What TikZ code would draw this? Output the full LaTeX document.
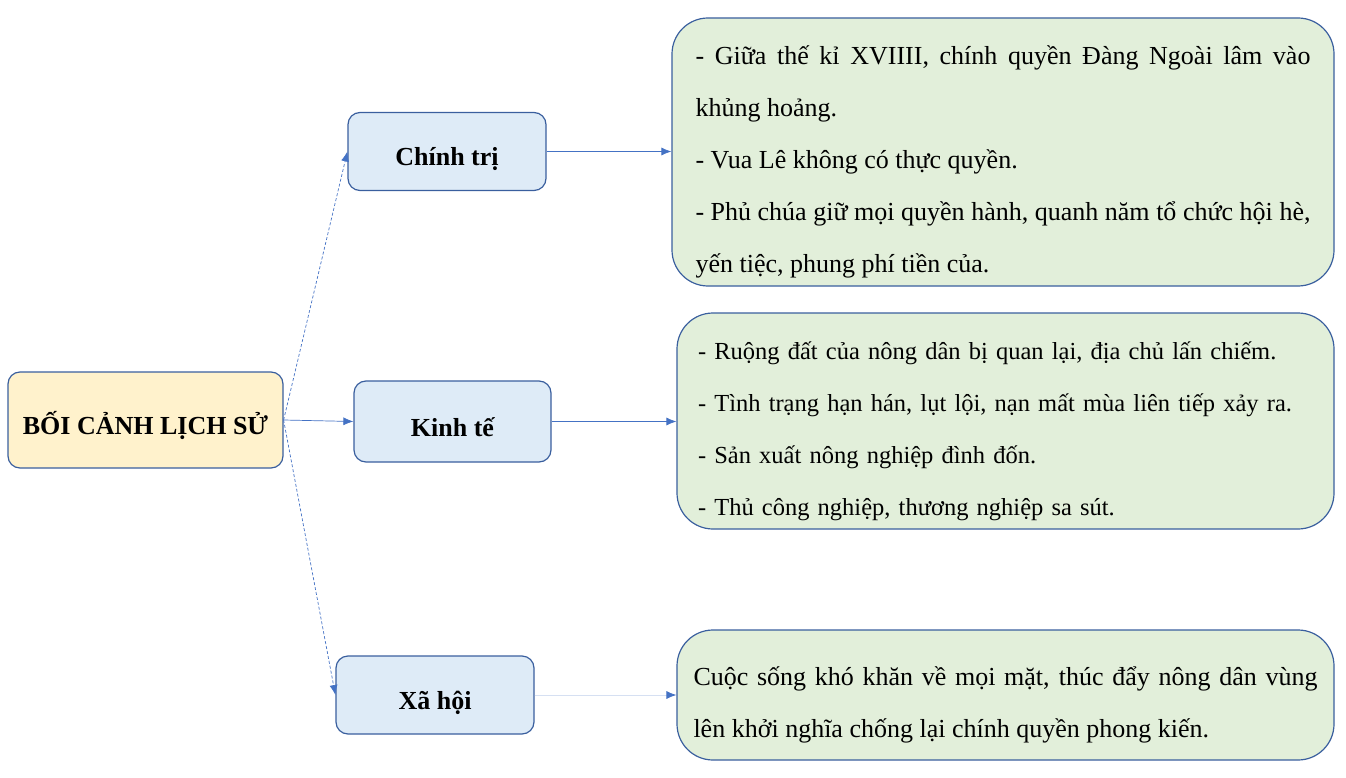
\documentclass[tikz,border=0pt]{standalone}
\usepackage{fontspec}
\setmainfont{Liberation Serif}
\usepackage{tikz}
\usetikzlibrary{arrows.meta}
\definecolor{boxline}{HTML}{3A5F9E}
\definecolor{linkblue}{HTML}{4472C4}
\definecolor{palelink}{HTML}{D6E0F2}
\definecolor{rootfill}{HTML}{FFF2CC}
\definecolor{topicfill}{HTML}{DEEBF7}
\definecolor{detailfill}{HTML}{E2EFDA}
\newcommand{\firstline}{\rule{0pt}{38pt}}
\tikzstyle{topic}=[draw=boxline,line width=1.2pt,rounded corners=12pt,fill=topicfill,font=\fontsize{26}{30}\selectfont\bfseries,text height=30pt,text depth=1pt]
\tikzstyle{root}=[topic,fill=rootfill,minimum width=275pt,minimum height=96pt]
\tikzstyle{branch}=[topic,minimum width=198pt,minimum height=78pt]
\tikzstyle{detail}=[draw=boxline,line width=1.2pt,rounded corners=36pt,fill=detailfill,inner sep=0pt,font=\fontsize{26}{52}\selectfont]
\tikzstyle{link}=[draw=linkblue,line width=0.7pt,-{Latex[length=10pt,width=8pt]}]

\begin{document}
\begin{tikzpicture}[x=1pt,y=-1pt]
        \useasboundingbox (0,0) rectangle (1346,778);
        % left side
        \node[root] (boicanh) at (145.5,420) {BỐI CẢNH LỊCH SỬ};
        \node[branch] (chinhtri) at (447,151.5) {Chính trị};
        \node[branch,minimum width=197pt,minimum height=81pt] (kinhte) at (452.5,421.5) {Kinh tế};
        \node[branch] (xahoi) at (435,695) {Xã hội};
        % right side
        \node[detail,minimum width=662pt,minimum height=268pt,text width=615pt,align=justify] (ndchinhtri) at (1003,152)
            {\firstline\makebox[\linewidth][s]{- Giữa thế kỉ XVIIII, chính quyền Đàng Ngoài lâm vào}\\
             khủng hoảng.\\
             - Vua Lê không có thực quyền.\\
             \makebox[\linewidth][s]{- Phủ chúa giữ mọi quyền hành, quanh năm tổ chức hội hè,}\\
             yến tiệc, phung phí tiền của.};
        \node[detail,minimum width=657pt,minimum height=216pt,text width=615pt,align=left,font=\fontsize{24.5}{52}\selectfont] (ndkinhte) at (1005.5,421)
            {\firstline- Ruộng đất của nông dân bị quan lại, địa chủ lấn chiếm.\\
             - Tình trạng hạn hán, lụt lội, nạn mất mùa liên tiếp xảy ra.\\
             - Sản xuất nông nghiệp đình đốn.\\
             - Thủ công nghiệp, thương nghiệp sa sút.};
        \node[detail,minimum width=657pt,minimum height=130pt,text width=624pt,align=justify] (ndxahoi) at (1005.5,695)
            {\firstline\makebox[\linewidth][s]{Cuộc sống khó khăn về mọi mặt, thúc đẩy nông dân vùng}\\
             lên khởi nghĩa chống lại chính quyền phong kiến.};
        % connectors
        \draw[link,densely dashed] (boicanh.east) -- (chinhtri.west);
        \draw[link] (boicanh.east) -- (kinhte.west);
        \draw[link,densely dashed] (boicanh.east) -- (xahoi.west);
        \draw[link] (chinhtri.east) -- (ndchinhtri.west |- chinhtri.east);
        \draw[link] (kinhte.east) -- (ndkinhte.west |- kinhte.east);
        \draw[link,draw=palelink,-{Latex[length=10pt,width=8pt,color=linkblue]}] (xahoi.east) -- (ndxahoi.west |- xahoi.east);
\end{tikzpicture}
\end{document}
